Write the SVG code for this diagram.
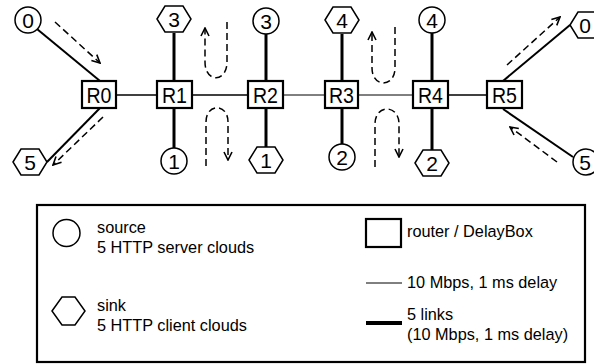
<svg xmlns="http://www.w3.org/2000/svg" width="594" height="364" viewBox="0 0 594 364">
<defs>
<style>
.txt{font-family:"Liberation Sans",Arial,sans-serif;fill:#000}
.lbl{font-size:22px;text-anchor:middle}
.nlbl{font-size:21px;text-anchor:middle}
.leg{font-size:16.3px}
.node{fill:#fff;stroke:#000;stroke-width:1.5}
.router{fill:#fff;stroke:#000;stroke-width:2.2}
.thin{stroke:#000;stroke-width:1.3;fill:none}
.thick{stroke:#000;stroke-width:3;fill:none}
.diag{stroke:#000;stroke-width:2;fill:none}
.flow{stroke:#000;stroke-width:1.5;fill:none;stroke-dasharray:7,4;marker-end:url(#arr)}
</style>
<marker id="arr" viewBox="0 0 10 10" refX="9" refY="5" markerWidth="10" markerHeight="10" markerUnits="userSpaceOnUse" orient="auto">
<path d="M1,1 L9,5 L1,9" fill="none" stroke="#000" stroke-width="1.6"/>
</marker>
</defs>
<g id="connectors">
<line class="thin" x1="116" y1="95" x2="157" y2="95"/>
<line class="thin" x1="192" y1="95" x2="248" y2="95"/>
<line class="thin" x1="283" y1="95" x2="325" y2="95" style="stroke-width:1"/>
<line class="thin" x1="358" y1="95" x2="413" y2="95" style="stroke-width:1"/>
<line class="thin" x1="448" y1="95" x2="487" y2="95"/>
<line class="thick" x1="174" y1="33" x2="174" y2="81"/>
<line class="thick" x1="174" y1="108" x2="174" y2="148"/>
<line class="thick" x1="266" y1="34" x2="266" y2="81"/>
<line class="thick" x1="266" y1="108" x2="266" y2="147"/>
<line class="thick" x1="342" y1="34" x2="342" y2="81"/>
<line class="thick" x1="342" y1="108" x2="342" y2="144"/>
<line class="thick" x1="432" y1="33" x2="432" y2="81"/>
<line class="thick" x1="432" y1="108" x2="432" y2="150"/>
<line class="diag" x1="37" y1="29" x2="100" y2="81"/>
<line class="diag" x1="100" y1="108" x2="47" y2="162"/>
<line class="diag" x1="503" y1="81" x2="570" y2="25"/>
<line class="diag" x1="503" y1="109" x2="573" y2="157"/>
<path class="flow" d="M55,22 L100,63"/>
<path class="flow" d="M103,117 L53,165"/>
<path class="flow" d="M507,65 L560,17"/>
<path class="flow" d="M557,162 L510,127"/>
<path class="flow" d="M227,22 L227,62 C227,83 205,83 205,62 L205,28"/>
<path class="flow" d="M206,166 L206,122 C206,103 228,103 228,122 L228,160"/>
<path class="flow" d="M395,27 L395,68 C395,88 372,88 372,68 L372,32"/>
<path class="flow" d="M375,167 L375,124 C375,104 399,104 399,124 L399,157"/>
</g>
<g id="R0"><rect class="router" x="82" y="81" width="34" height="27"/><text class="txt lbl" x="99" y="102.5" textLength="25" lengthAdjust="spacingAndGlyphs">R0</text></g>
<g id="R1"><rect class="router" x="157" y="81" width="35" height="27"/><text class="txt lbl" x="174.5" y="102.5" textLength="25" lengthAdjust="spacingAndGlyphs">R1</text></g>
<g id="R2"><rect class="router" x="248" y="81" width="35" height="27"/><text class="txt lbl" x="265.5" y="102.5" textLength="25" lengthAdjust="spacingAndGlyphs">R2</text></g>
<g id="R3"><rect class="router" x="325" y="81" width="33" height="27"/><text class="txt lbl" x="341.5" y="102.5" textLength="25" lengthAdjust="spacingAndGlyphs">R3</text></g>
<g id="R4"><rect class="router" x="413" y="81" width="35" height="27"/><text class="txt lbl" x="430.5" y="102.5" textLength="25" lengthAdjust="spacingAndGlyphs">R4</text></g>
<g id="R5"><rect class="router" x="487" y="81" width="35" height="27"/><text class="txt lbl" x="504.5" y="102.5" textLength="25" lengthAdjust="spacingAndGlyphs">R5</text></g>
<g id="src0"><circle class="node" cx="28" cy="20" r="13"/><text class="txt nlbl" x="28" y="27.5">0</text></g>
<g id="sink3"><polygon class="node" points="157,19 165,6 183,6 191,19 183,32 165,32"/><text class="txt nlbl" x="174" y="26.5">3</text></g>
<g id="src3"><circle class="node" cx="266" cy="21" r="13"/><text class="txt nlbl" x="266" y="28.5">3</text></g>
<g id="sink4"><polygon class="node" points="325,20 333,7 351,7 359,20 351,33 333,33"/><text class="txt nlbl" x="342" y="27.5">4</text></g>
<g id="src4"><circle class="node" cx="432" cy="20" r="13"/><text class="txt nlbl" x="432" y="27.5">4</text></g>
<g id="sink0"><polygon class="node" points="570,25 578,12 596,12 604,25 596,38 578,38"/><text class="txt nlbl" x="585" y="32.5">0</text></g>
<g id="sink5"><polygon class="node" points="13,162 21,149 39,149 47,162 39,175 21,175"/><text class="txt nlbl" x="30" y="169.5">5</text></g>
<g id="src1"><circle class="node" cx="174" cy="161" r="13"/><text class="txt nlbl" x="174" y="168.5">1</text></g>
<g id="sink1"><polygon class="node" points="249,160 257,147 275,147 283,160 275,173 257,173"/><text class="txt nlbl" x="266" y="167.5">1</text></g>
<g id="src2"><circle class="node" cx="342" cy="157" r="13"/><text class="txt nlbl" x="342" y="164.5">2</text></g>
<g id="sink2"><polygon class="node" points="415,163 423,150 441,150 449,163 441,176 423,176"/><text class="txt nlbl" x="432" y="170.5">2</text></g>
<g id="src5"><circle class="node" cx="586" cy="162" r="13"/><text class="txt nlbl" x="585" y="169.5">5</text></g>
<g id="legend">
<rect x="37" y="205" width="548" height="157" fill="#fff" stroke="#000" stroke-width="2.2"/>
<circle class="node" cx="66.5" cy="233" r="13.5"/>
<text class="txt leg" x="97" y="233">source</text>
<text class="txt leg" x="97" y="253">5 HTTP server clouds</text>
<polygon class="node" points="52,311 62,297 75,297 85,311 75,325 62,325"/>
<text class="txt leg" x="97" y="311">sink</text>
<text class="txt leg" x="97" y="331">5 HTTP client clouds</text>
<rect class="router" x="366" y="219" width="35" height="28"/>
<text class="txt leg" x="407" y="237">router / DelayBox</text>
<line x1="366" y1="283" x2="402" y2="283" stroke="#000" stroke-width="1"/>
<text class="txt leg" x="407" y="288">10 Mbps, 1 ms delay</text>
<line x1="366" y1="323" x2="402" y2="323" stroke="#000" stroke-width="4"/>
<text class="txt leg" x="407" y="320">5 links</text>
<text class="txt leg" x="407" y="340">(10 Mbps, 1 ms delay)</text>
</g>
</svg>
